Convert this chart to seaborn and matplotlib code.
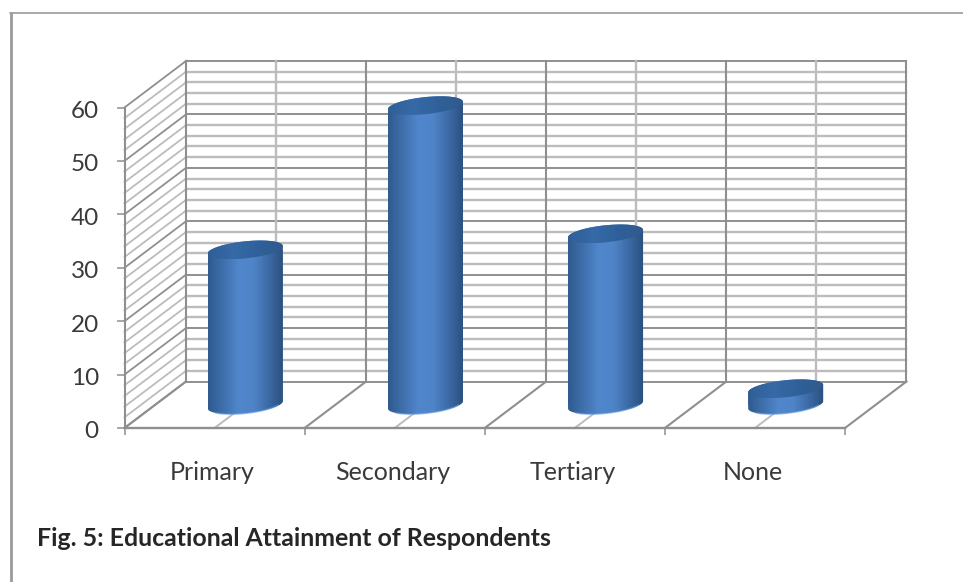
import numpy as np
import pandas as pd
import seaborn as sns
import matplotlib
matplotlib.use("Agg")
import matplotlib.pyplot as plt
from matplotlib.colors import LinearSegmentedColormap
from matplotlib.lines import Line2D
from matplotlib.path import Path
from matplotlib.transforms import ScaledTranslation

categories = ["Primary", "Secondary", "Tertiary", "None"]
values = [29, 56, 32, 3]
y_major = list(range(0, 61, 10))
y_minor = list(range(0, 61, 2))

sns.set_theme(style="white")
plt.rcParams["font.family"] = ["Lato", "DejaVu Sans"]

MAJOR = "#8f8f8f"
MINOR = "#bcbcbc"
TEXT = "#3a3a3a"

# Oblique projection: full depth of the box, in data units
DX, DY = 0.3414, 8.705
BAR_WIDTH = 0.4164
ELL_B, ELL_K = 1.6, 0.7


def project(x, y, d):
    return x + d * DX, y + d * DY


def seg(ax, p, q, color, lw, z=1):
    ax.plot([p[0], q[0]], [p[1], q[1]], color=color, lw=lw, zorder=z,
            clip_on=False, solid_capstyle="projecting")


fig = plt.figure(figsize=(9.63, 5.82), dpi=100, facecolor="white")
ax = fig.add_axes([124.5 / 963, 1 - 428 / 582, 720.5 / 963, 320.5 / 582])
ax.patch.set_alpha(0)

frame = pd.DataFrame({"level": categories, "share": values})
sns.barplot(data=frame, x="level", y="share", width=BAR_WIDTH, color="#4275b4",
            saturation=1, ax=ax, zorder=3)

x_left, x_right = -0.5, len(categories) - 0.5
ax.set_xlim(x_left, x_right)
ax.set_ylim(0, 60)

# Back wall and side wall grid
for y in y_minor:
    if y not in y_major:
        seg(ax, project(x_left, y, 1), project(x_right, y, 1), MINOR, 1.7)
        seg(ax, project(x_left, y, 0), project(x_left, y, 1), MINOR, 1.3)
for y in y_major:
    seg(ax, project(x_left, y, 1), project(x_right, y, 1), MAJOR, 1.4)
    seg(ax, project(x_left, y, 0), project(x_left, y, 1), MAJOR, 1.3)

# Vertical divisions and floor lines
for i in range(len(categories)):
    seg(ax, project(i, 0, 1), project(i, 60, 1), MINOR, 1.7)
    seg(ax, project(i, 0, 0), project(i, 0, 1), MINOR, 1.4)
for x in np.arange(x_left, x_right + 1):
    seg(ax, project(x, 0, 1), project(x, 60, 1), MAJOR, 1.5)
    seg(ax, project(x, 0, 0), project(x, 0, 1), MAJOR, 1.5)
seg(ax, project(x_left, 0, 0), project(x_right, 0, 0), MAJOR, 1.7)
seg(ax, project(x_left, 0, 0), project(x_left, 60, 0), MAJOR, 1.5)

# Cylinders: each seaborn bar is moved to mid depth, then shaded
body_cmap = LinearSegmentedColormap.from_list(
    "body", ["#2f5a8e", "#3f70ac", "#5086cc", "#4f84c8", "#3c6aa5", "#2a4f7c"])
cap_cmap = LinearSegmentedColormap.from_list(
    "cap", ["#2f5f98", "#366aa6", "#30609a", "#2f5a8c"])
shade = np.linspace(0, 1, 256).reshape(1, -1)


def ellipse(cx, cy, half, t0, t1):
    t = np.radians(np.linspace(t0, t1, 60))
    return np.column_stack([cx + half * np.cos(t),
                            cy + ELL_B * np.sin(t) + ELL_K * np.cos(t)])


for patch, value in zip(ax.patches, values):
    half = patch.get_width() / 2
    cx, base = project(patch.get_x() + half, 0, 0.5)
    top = base + value
    patch.set_xy((cx - half, base))
    patch.set_linewidth(0)

    outline = np.vstack([ellipse(cx, base, half, 180, 360),
                         ellipse(cx, top, half, 0, 180)])
    silhouette = Path(np.vstack([outline, outline[:1]]), closed=True)
    patch.set_clip_box(fig.bbox)
    patch.set_clip_path(silhouette, transform=ax.transData)

    cap = ellipse(cx, top, half, 0, 360)
    extent = (cx - half, cx + half, base - 3, top + 3)
    for verts, cmap, z in ((outline, body_cmap, 4), (cap, cap_cmap, 5)):
        im = ax.imshow(shade, cmap=cmap, extent=extent, aspect="auto", zorder=z)
        im.set_clip_box(fig.bbox)
        im.set_clip_path(Path(np.vstack([verts, verts[:1]]), closed=True),
                         transform=ax.transData)
    rim = ellipse(cx, base, half * 0.97, 215, 335)
    ax.plot(rim[:, 0], rim[:, 1], color="#5a94dc", lw=1.2, alpha=0.6, zorder=6,
            clip_on=False)

ax.set_xlim(x_left, x_right)
ax.set_ylim(0, 60)
sns.despine(ax=ax, left=True, bottom=True)

# Axis furniture
ax.set_xlabel("")
ax.set_ylabel("")
ax.set_yticks(y_major)
ax.set_yticklabels([str(v) for v in y_major])
ax.set_xticks(np.arange(x_left, x_right + 1))
ax.set_xticklabels([])
ax.set_xticks(range(len(categories)), categories, minor=True)
ax.tick_params(axis="y", left=True, length=5.5, width=1.1, color=MAJOR, pad=13,
               labelsize=17.5, labelcolor=TEXT)
ax.tick_params(axis="x", which="major", bottom=True, length=5, width=1.1, color=MAJOR)
ax.tick_params(axis="x", which="minor", bottom=False, length=0, pad=24,
               labelsize=18, labelcolor=TEXT)
nudge = ScaledTranslation(0, -2 / 100, fig.dpi_scale_trans)
for label in ax.get_yticklabels():
    label.set_transform(label.get_transform() + nudge)
for label in ax.get_xticklabels(minor=True):
    label.set_transform(label.get_transform() + ScaledTranslation(-2 / 100, 0, fig.dpi_scale_trans))

fig.text(37 / 963, 1 - 538 / 582, "Fig. 5: Educational Attainment of Respondents",
         fontsize=17.9, fontweight="bold", color="#262626", ha="left", va="center")

# Outer frame along the top and left
fig.add_artist(Line2D([10 / 963, 1], [1 - 13 / 582] * 2, color="#9a9a9a", lw=1.2))
fig.add_artist(Line2D([11 / 963] * 2, [1 - 13 / 582, 0], color="#9a9a9a", lw=2))

fig.savefig("out.png", dpi=100)
